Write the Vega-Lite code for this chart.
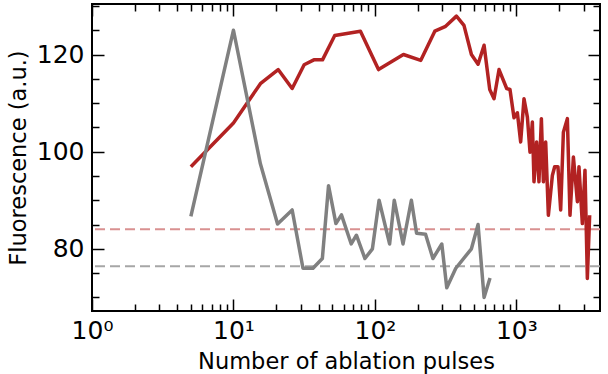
{
  "$schema": "https://vega.github.io/schema/vega-lite/v6.json",
  "width": 508,
  "height": 307,
  "autosize": "none",
  "padding": {"left": 92, "top": 4, "right": 8, "bottom": 63},
  "config": {
    "view": {"stroke": "black", "strokeWidth": 2},
    "font": "DejaVu Sans",
    "axis": {
      "grid": false, "domain": false, "tickColor": "black", "tickWidth": 1.5,
      "labelFont": "DejaVu Sans", "labelFontSize": 25, "labelColor": "black",
      "titleFont": "DejaVu Sans", "titleFontSize": 22.5, "titleFontWeight": "normal", "titleColor": "black",
      "labelFlush": false, "labelOverlap": false
    }
  },
  "datasets": {
    "grey": [
      {"n": 5, "f": 86.7}, {"n": 10, "f": 125}, {"n": 15.5, "f": 97.5}, {"n": 20.5, "f": 85.1},
      {"n": 26, "f": 88}, {"n": 31, "f": 76}, {"n": 36.5, "f": 76}, {"n": 42.5, "f": 78},
      {"n": 47, "f": 93}, {"n": 53, "f": 85.2}, {"n": 58, "f": 87}, {"n": 68, "f": 81},
      {"n": 74, "f": 82.8}, {"n": 85, "f": 78}, {"n": 96, "f": 80}, {"n": 107, "f": 90},
      {"n": 127, "f": 81}, {"n": 137, "f": 90}, {"n": 158, "f": 81}, {"n": 181, "f": 90},
      {"n": 197, "f": 83.2}, {"n": 228, "f": 83}, {"n": 257, "f": 78}, {"n": 297, "f": 81},
      {"n": 322, "f": 72}, {"n": 373, "f": 76}, {"n": 481, "f": 80}, {"n": 536, "f": 85},
      {"n": 591, "f": 70}, {"n": 651, "f": 74}
    ],
    "red": [
      {"n": 5, "f": 96.9}, {"n": 10, "f": 105.9}, {"n": 15.5, "f": 114}, {"n": 20.7, "f": 116.9},
      {"n": 26, "f": 113}, {"n": 31.6, "f": 117.9}, {"n": 37, "f": 118.9}, {"n": 42.6, "f": 118.9},
      {"n": 52, "f": 123.9}, {"n": 79, "f": 124.8}, {"n": 106, "f": 116.9}, {"n": 159, "f": 120},
      {"n": 211, "f": 118.8}, {"n": 265, "f": 124.8}, {"n": 316, "f": 125.8}, {"n": 377, "f": 127.9},
      {"n": 426, "f": 126}, {"n": 481, "f": 120}, {"n": 536, "f": 118}, {"n": 591, "f": 121.9},
      {"n": 648, "f": 112.8}, {"n": 695, "f": 110.9}, {"n": 754, "f": 116.9}, {"n": 854, "f": 113},
      {"n": 901, "f": 112.8}, {"n": 962, "f": 107}, {"n": 1016, "f": 108}, {"n": 1072, "f": 102},
      {"n": 1132, "f": 110.9}, {"n": 1196, "f": 107.1}, {"n": 1248, "f": 99.9}, {"n": 1297, "f": 106.1},
      {"n": 1332, "f": 93.8}, {"n": 1390, "f": 102}, {"n": 1444, "f": 93.8}, {"n": 1502, "f": 106.8},
      {"n": 1552, "f": 93.8}, {"n": 1611, "f": 102}, {"n": 1683, "f": 86.9}, {"n": 1796, "f": 95.1},
      {"n": 1865, "f": 96.9}, {"n": 1967, "f": 96.9}, {"n": 2056, "f": 88}, {"n": 2149, "f": 104},
      {"n": 2293, "f": 106.8}, {"n": 2393, "f": 86.9}, {"n": 2529, "f": 98.9}, {"n": 2699, "f": 89.7},
      {"n": 2769, "f": 96.9}, {"n": 2926, "f": 85.2}, {"n": 3054, "f": 96.2}, {"n": 3174, "f": 73.9},
      {"n": 3296, "f": 86.9}
    ],
    "baselines": [
      {"series": "red", "f": 84.05},
      {"series": "grey", "f": 76.4}
    ]
  },
  "resolve": {"axis": {"x": "independent", "y": "independent"}},
  "layer": [
    {
      "data": {"name": "baselines"},
      "mark": {"type": "rule", "strokeDash": [10, 5], "strokeWidth": 2},
      "encoding": {
        "y": {"field": "f", "type": "quantitative", "scale": {"domain": [67.2, 130.4], "nice": false, "zero": false}, "axis": null},
        "color": {"field": "series", "type": "nominal", "scale": {"domain": ["red", "grey"], "range": ["#d99191", "#a6a6a6"]}, "legend": null}
      }
    },
    {
      "data": {"name": "red"},
      "mark": {"type": "line", "color": "#b22222", "strokeWidth": 3.5, "strokeJoin": "round"},
      "encoding": {
        "x": {"field": "n", "type": "quantitative", "scale": {"type": "log", "domain": [1, 3900], "nice": false},
          "axis": {"orient": "top", "labels": false, "title": null,
            "values": [1,2,3,4,5,6,7,8,9,10,20,30,40,50,60,70,80,90,100,200,300,400,500,600,700,800,900,1000,2000,3000],
            "tickSize": {"condition": {"test": "datum.value == 1 || datum.value == 10 || datum.value == 100 || datum.value == 1000", "value": -12}, "value": -7}}},
        "y": {"field": "f", "type": "quantitative", "scale": {"domain": [67.2, 130.4], "nice": false, "zero": false},
          "axis": {"orient": "right", "labels": false, "title": null,
            "values": [70,75,80,85,90,95,100,105,110,115,120,125,130],
            "tickSize": {"condition": {"test": "datum.value % 20 == 0", "value": -12}, "value": -7}}}
      }
    },
    {
      "data": {"name": "grey"},
      "mark": {"type": "line", "color": "#808080", "strokeWidth": 3.5, "strokeJoin": "round"},
      "encoding": {
        "x": {"field": "n", "type": "quantitative", "scale": {"type": "log", "domain": [1, 3900], "nice": false},
          "axis": {"orient": "bottom", "title": "Number of ablation pulses",
            "values": [1,2,3,4,5,6,7,8,9,10,20,30,40,50,60,70,80,90,100,200,300,400,500,600,700,800,900,1000,2000,3000],
            "labelExpr": "datum.value == 1 ? '10⁰' : datum.value == 10 ? '10¹' : datum.value == 100 ? '10²' : datum.value == 1000 ? '10³' : ''",
            "labelPadding": 19,
            "titlePadding": 2,
            "tickSize": {"condition": {"test": "datum.value == 1 || datum.value == 10 || datum.value == 100 || datum.value == 1000", "value": -12}, "value": -7}}},
        "y": {"field": "f", "type": "quantitative", "scale": {"domain": [67.2, 130.4], "nice": false, "zero": false},
          "axis": {"orient": "left", "title": "Fluorescence (a.u.)",
            "values": [70,75,80,85,90,95,100,105,110,115,120,125,130],
            "labelExpr": "datum.value % 20 == 0 ? datum.label : ''",
            "labelPadding": 20,
            "titlePadding": 6,
            "tickSize": {"condition": {"test": "datum.value % 20 == 0", "value": -12}, "value": -7}}}
      }
    }
  ]
}
